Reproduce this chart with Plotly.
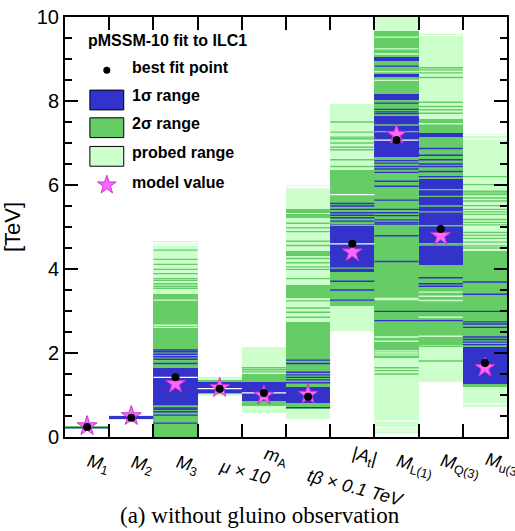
import plotly.graph_objects as go

# ---- column categories (parameters of the fit) ----
LABELS = [
    "<i>M</i><sub>1</sub>",
    "<i>M</i><sub>2</sub>",
    "<i>M</i><sub>3</sub>",
    "<i>μ × 10</i>",
    "<i>m</i><sub>A</sub>",
    "<i>tβ × 0.1 TeV</i>",
    "|<i>A</i><sub>t</sub>|",
    "<i>M</i><sub>L(1)</sub>",
    "<i>M</i><sub>Q(3)</sub>",
    "<i>M</i><sub>u(3)</sub>",
]

# ---- solid bands [TeV], one list of (low, high) per column ----
PROBED_BANDS = [
    [(0.20, 0.27)], [(0.41, 0.53)], [(0.0, 4.66)], [(0.97, 1.42)], [(0.56, 2.15)],
    [(0.44, 5.99)], [(2.53, 7.92)], [(0.24, 10.0)], [(1.32, 9.59)], [(0.71, 7.22)],
]
SIGMA2_BANDS = [
    [(0.215, 0.245)], [(0.43, 0.50)], [(0.0, 3.41)], [(1.02, 1.36)], [(0.75, 1.50)],
    [(0.66, 2.74), (3.32, 3.62), (4.32, 4.42), (5.22, 5.30), (5.34, 5.44)],
    [(3.12, 6.36)], [(1.89, 9.67)], [(2.20, 7.58)], [(1.18, 4.44)],
]
SIGMA1_BANDS = [
    [(0.215, 0.23)], [(0.45, 0.475)], [(0.73, 1.65)], [(1.05, 1.30)], [(0.86, 1.31)],
    [(0.81, 1.20)], [(3.93, 5.08)],
    [(6.67, 7.65), (8.02, 8.16), (8.56, 8.65), (8.96, 9.04)],
    [(4.09, 6.14), (7.15, 7.24)], [(1.26, 2.14)],
]

# ---- individual sampled stripes [TeV] ----
PROBED_LINES = [
    [], [], [3.26, 2.66, 2.61], [], [], [], [],
    [9.52, 9.24, 9.12, 8.70, 8.49, 3.30, 3.27, 2.38, 2.28, 2.05, 2.00, 1.95, 0.19, 0.14, 0.10],
    [7.46, 3.45, 3.35, 3.25, 2.85, 2.40], [],
]
SIGMA2_LINES = [
    [], [],
    [4.45, 4.23, 4.11, 3.99, 3.89, 3.77, 3.73, 3.65, 3.59, 3.54, 0.74],
    [], [1.65, 1.60, 1.55],
    [5.09, 4.98, 4.89, 4.66, 4.56, 4.25, 4.15, 4.05, 3.99, 3.77, 3.24, 3.07, 2.97, 2.85],
    [7.50, 7.26, 7.14, 7.10, 7.00, 6.90, 6.84, 6.60, 6.44, 5.04, 4.02],
    [1.65, 1.58, 1.50, 7.43, 7.27],
    [8.79, 8.74, 8.67, 8.56, 7.97, 7.87, 7.79, 7.71, 2.16, 1.81,
     5.89, 5.73, 5.50, 5.36, 5.03, 4.60, 4.57],
    [6.20, 6.01, 5.85, 5.81, 5.77, 5.69, 5.62, 5.51, 5.42, 5.36, 5.30, 5.18,
     5.11, 5.05, 4.87, 4.80, 4.73, 4.64, 4.55, 4.50, 1.22],
]
SIGMA1_LINES = [
    [0.22], [0.485, 0.455],
    [2.07, 2.03, 1.97, 1.91, 1.85, 1.75, 0.69, 0.66, 0.60, 0.52, 0.33],
    [], [],
    [1.83, 1.75, 1.54, 1.48, 1.42, 1.36, 1.29, 0.70],
    [5.56, 5.50, 5.42, 5.34, 5.28, 5.22, 5.14, 3.71, 3.50, 3.26],
    [8.83, 7.95, 7.80, 7.74, 7.70, 6.58, 6.52, 6.44, 6.38, 6.30, 6.09, 5.97,
     5.64, 5.42, 5.34, 5.27, 5.17, 5.11, 5.07, 4.79, 4.18, 2.99, 2.77],
    [6.87, 6.71, 6.60, 6.50, 6.44, 6.32, 6.20, 3.79, 3.65, 3.59, 2.99, 2.77],
    [3.69, 3.40, 2.99, 2.74, 2.69, 2.61, 2.38, 2.32, 2.26, 2.20],
]
GAP_LINES = [
    [], [], [1.42, 4.62, 4.57], [1.15], [1.05], [5.96, 5.93],
    [4.60, 5.77], [7.07, 0.38], [9.56], [7.18, 7.10, 0.79],
]

BEST_FIT = [0.24, 0.46, 1.42, 1.15, 1.05, 0.96, 4.60, 7.07, 4.95, 1.76]
MODEL_VALUE = [0.26, 0.50, 1.27, 1.17, 0.99, 1.01, 4.40, 7.20, 4.79, 1.65]

C_BLUE = "#3333cc"
C_GREEN = "#66cc66"
C_LIGHT = "#ccffcc"
C_STAR = "#ff66ff"
C_STAR_EDGE = "#cc33cc"

FONT = "Liberation Sans"
N = len(LABELS)


def band_trace(bands, color):
    xs, hs, bs = [], [], []
    for i, col in enumerate(bands):
        for lo, hi in col:
            xs.append(i)
            hs.append(hi - lo)
            bs.append(lo)
    return go.Bar(x=xs, y=hs, base=bs, width=1.0,
                  marker=dict(color=color, line=dict(width=0)),
                  showlegend=False, hoverinfo="skip")


def line_trace(lines, color, width=1.4):
    xs, ys = [], []
    for i, col in enumerate(lines):
        for v in col:
            xs += [i - 0.5, i + 0.5, None]
            ys += [v, v, None]
    return go.Scatter(x=xs, y=ys, mode="lines",
                      line=dict(color=color, width=width),
                      showlegend=False, hoverinfo="skip")


fig = go.Figure()
fig.add_trace(band_trace(PROBED_BANDS, C_LIGHT))
fig.add_trace(band_trace(SIGMA2_BANDS, C_GREEN))
fig.add_trace(band_trace(SIGMA1_BANDS, C_BLUE))
fig.add_trace(line_trace(PROBED_LINES, C_LIGHT))
fig.add_trace(line_trace(SIGMA2_LINES, C_GREEN))
fig.add_trace(line_trace(SIGMA1_LINES, C_BLUE))
fig.add_trace(line_trace(GAP_LINES, "white", 1.2))

cols = list(range(N))
fig.add_trace(go.Scatter(x=cols, y=MODEL_VALUE, mode="markers",
                         marker=dict(symbol="star", size=15, color=C_STAR,
                                     line=dict(color=C_STAR_EDGE, width=1)),
                         showlegend=False, hoverinfo="skip"))
fig.add_trace(go.Scatter(x=cols, y=BEST_FIT, mode="markers",
                         marker=dict(symbol="circle", size=8, color="black"),
                         showlegend=False, hoverinfo="skip"))

# legend symbols on a hidden unit overlay
fig.add_trace(go.Scatter(x=[0.0946], y=[0.873], xaxis="x2", yaxis="y2", mode="markers",
                         marker=dict(symbol="circle", size=7, color="black"),
                         showlegend=False, hoverinfo="skip"))
fig.add_trace(go.Scatter(x=[0.0946], y=[0.600], xaxis="x2", yaxis="y2", mode="markers",
                         marker=dict(symbol="star", size=14, color=C_STAR,
                                     line=dict(color=C_STAR_EDGE, width=1)),
                         showlegend=False, hoverinfo="skip"))

shapes = []
for color, y0, y1 in [(C_BLUE, 0.7788, 0.8259), (C_GREEN, 0.7129, 0.76),
                      (C_LIGHT, 0.6447, 0.6918)]:
    shapes.append(dict(type="rect", xref="paper", yref="paper",
                       x0=0.0563, x1=0.1329, y0=y0, y1=y1,
                       fillcolor=color, line=dict(color="black", width=1)))

annotations = [
    dict(text="<b>pMSSM-10 fit to ILC1</b>", x=0.232, y=0.944, xanchor="center"),
    dict(text="<b>best fit point</b>", x=0.1464, y=0.880, xanchor="left"),
    dict(text="<b>1σ range</b>", x=0.1464, y=0.814, xanchor="left"),
    dict(text="<b>2σ range</b>", x=0.1464, y=0.746, xanchor="left"),
    dict(text="<b>probed range</b>", x=0.1464, y=0.678, xanchor="left"),
    dict(text="<b>model value</b>", x=0.1464, y=0.607, xanchor="left"),
]
for a in annotations:
    a.update(xref="paper", yref="paper", yanchor="middle", showarrow=False,
             font=dict(family=FONT, size=16, color="black"))

# rotated category labels under the axis
LABEL_DROP = [11, 12, 12, 16, 4, 26, 4, 11, 11, 9]
for i, (lab, drop) in enumerate(zip(LABELS, LABEL_DROP)):
    annotations.append(dict(text=lab, x=i, xref="x", y=0, yref="paper",
                            xanchor="left", yanchor="top", yshift=-drop, xshift=-5,
                            textangle=15, showarrow=False,
                            font=dict(family=FONT, size=18, color="black")))

annotations.append(dict(text="(a) without gluino observation", x=0.441, y=-0.188,
                        xref="paper", yref="paper", xanchor="center", yanchor="middle",
                        showarrow=False,
                        font=dict(family="Liberation Serif", size=23, color="black")))

fig.update_layout(
    width=515, height=531,
    margin=dict(l=65, r=6, t=12, b=94),
    paper_bgcolor="white", plot_bgcolor="white",
    barmode="overlay", bargap=0,
    showlegend=False,
    shapes=shapes, annotations=annotations,
    xaxis=dict(range=[-0.5, N - 0.5], tickvals=[k - 0.5 for k in range(N + 1)],
               showticklabels=False, ticks="inside", ticklen=13, tickwidth=2,
               tickcolor="black", showline=True, linewidth=2, linecolor="black",
               mirror="ticks", showgrid=False, zeroline=False, fixedrange=True),
    yaxis=dict(range=[0, 10], tickvals=[0, 2, 4, 6, 8, 10],
               ticks="inside", ticklen=13, tickwidth=2, tickcolor="black",
               minor=dict(dtick=0.5, tick0=0, ticks="inside", ticklen=7,
                          tickwidth=2, tickcolor="black", showgrid=False),
               showline=True, linewidth=2, linecolor="black", mirror="ticks",
               showgrid=False, zeroline=False,
               tickfont=dict(family=FONT, size=20, color="black"),
               title=dict(text="[TeV]", standoff=10,
                          font=dict(family=FONT, size=22, color="black")),
               fixedrange=True),
    xaxis2=dict(overlaying="x", anchor="y2", range=[0, 1], visible=False),
    yaxis2=dict(overlaying="y", anchor="x2", range=[0, 1], visible=False),
)

fig.write_html("out.html")
